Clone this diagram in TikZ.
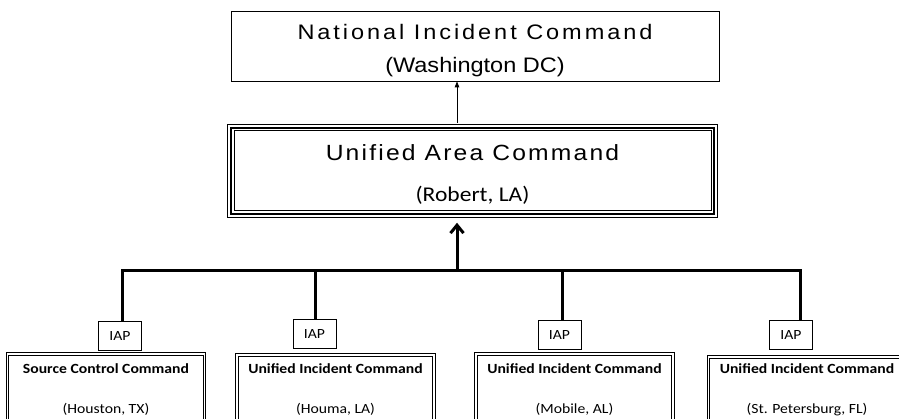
\documentclass[tikz,border=0pt]{standalone}
\usepackage{fontspec}
\setmainfont{Carlito}[FakeStretch=1.12]
\newfontfamily\arialfont{Liberation Sans}[FakeStretch=1.12]
\newfontfamily\nicfont{Liberation Sans}[FakeStretch=1.12,LetterSpace=14]
\newfontfamily\uacfont{Liberation Sans}[FakeStretch=1.12,LetterSpace=10]
\usetikzlibrary{arrows.meta}
\newcommand{\lift}[1]{\rule{0pt}{#1}}

\begin{document}
\begin{tikzpicture}[x=1pt,y=-1pt,
    plainbox/.style={draw, line width=0.8pt, inner sep=0pt, align=center},
    areabox/.style={draw, line width=2pt, inner sep=0pt, align=center,
      preaction={draw, line width=7.5pt},
      preaction={draw=white, line width=5.5pt}},
    cmdbox/.style={draw, double, double distance=1.8pt, line width=0.7pt,
      minimum width=197pt, anchor=north, inner xsep=0pt, inner ysep=9.5pt,
      align=center, font=\fontsize{14}{17}\selectfont},
    iapbox/.style={draw, line width=0.8pt, minimum width=43pt, minimum height=29pt,
      inner sep=0pt, anchor=south, font=\fontsize{14}{17}\selectfont},
    feed/.style={line width=3pt}]
  \useasboundingbox (0,0) rectangle (899,419);
  \clip (0,0) rectangle (899,419);

  \node[plainbox, minimum width=488pt, minimum height=70pt,
    font=\fontsize{21}{25}\selectfont] (nic) at (475,46)
    {\nicfont\lift{25pt}National Incident Command\\[8pt]\arialfont (Washington DC)};

  \node[areabox, minimum width=483.5pt, minimum height=86.5pt,
    font=\fontsize{22}{26}\selectfont] (uac) at (472.5,171)
    {\uacfont\lift{22pt}Unified Area Command\\[15pt]\rmfamily\fontsize{21}{26}\selectfont (Robert, LA)};

  \node[iapbox] (iap1) at (120,351) {IAP};
  \node[iapbox] (iap2) at (314.5,349) {IAP};
  \node[iapbox] (iap3) at (559.5,350) {IAP};
  \node[iapbox] (iap4) at (791,350) {IAP};

  \node[cmdbox] (source) at (106,353.6) {\textbf{Source Control Command}\\[23pt](Houston, TX)};
  \node[cmdbox, inner ysep=8.5pt] (houma) at (335.5,354.6) {\textbf{Unified Incident Command}\\[23pt](Houma, LA)};
  \node[cmdbox] (mobile) at (574.5,353.6) {\textbf{Unified Incident Command}\\[23pt](Mobile, AL)};
  \node[cmdbox, inner ysep=6.5pt] (stpete) at (807,356.6) {\textbf{Unified Incident Command}\\[23pt](St. Petersburg, FL)};

  \coordinate (hub) at (457,271);
  \coordinate (d1) at (122,271);
  \coordinate (d2) at (315,271);
  \coordinate (d3) at (562,271);
  \coordinate (d4) at (800,271);

  \draw[feed] (d1 |- iap1.north) -- (d1) -- (d4) -- (d4 |- iap4.north);
  \draw[feed] (d2) -- (d2 |- iap2.north);
  \draw[feed] (d3) -- (d3 |- iap3.north);
  \draw[feed, -{Straight Barb[length=8pt,width=13pt]}, shorten >=7.5pt] (hub) -- (hub |- uac.south);
  \draw[line width=0.8pt, -{Triangle[length=6pt,width=4.5pt]}, shorten <=3.75pt] (hub |- uac.north) -- (hub |- nic.south);
\end{tikzpicture}
\end{document}
